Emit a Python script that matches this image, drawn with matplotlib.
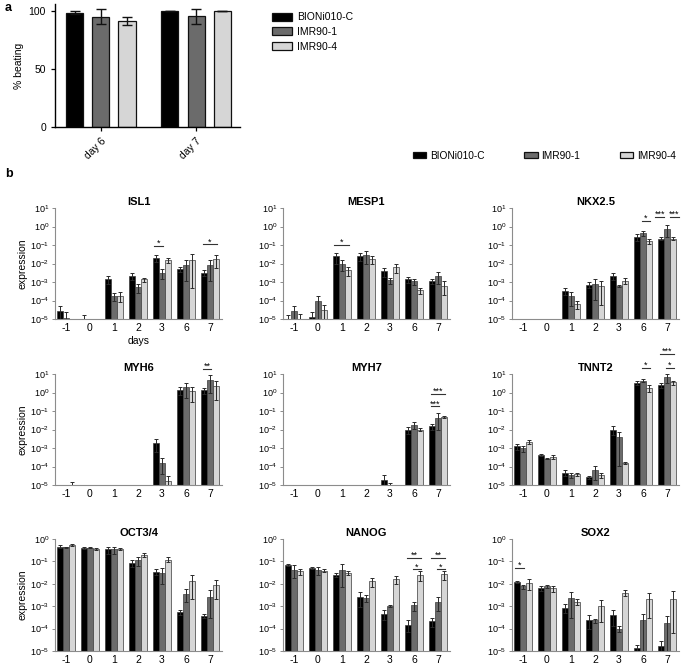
import numpy as np
import matplotlib
matplotlib.use("Agg")
import matplotlib.pyplot as plt
from matplotlib.patches import Patch
from matplotlib.ticker import NullLocator

plt.rcParams['font.family'] = ['Liberation Sans', 'DejaVu Sans']
plt.rcParams['mathtext.fontset'] = 'custom'
plt.rcParams['mathtext.rm'] = 'Liberation Sans'
plt.rcParams['mathtext.it'] = 'Liberation Sans:italic'
plt.rcParams['mathtext.bf'] = 'Liberation Sans:bold'
plt.rcParams['mathtext.default'] = 'regular'

nan = np.nan
lines_names = ["BIONi010-C", "IMR90-1", "IMR90-4"]
colors = ["#000000", "#6b6b6b", "#d6d6d6"]

# ---------------- panel a ----------------
a_days = ["day 6", "day 7"]
a_bioni = [98.5, 100.0]
a_bioni_sd = [1.5, 0.0]
a_imr1 = [95.0, 95.5]
a_imr1_sd = [6.5, 6.5]
a_imr4 = [91.5, 100.0]
a_imr4_sd = [3.5, 0.0]

# ---------------- panel b ----------------
days = ["-1", "0", "1", "2", "3", "6", "7"]

ISL1 = dict(
    B=[2.8e-5, 1.0e-5, 1.5e-3, 2.1e-3, 2.0e-2, 4.9e-3, 3.2e-3],
    Bsd=[2.2e-5, 0.6e-5, 0.7e-3, 0.8e-3, 0.8e-2, 1.6e-3, 1.0e-3],
    I1=[1.2e-5, nan, 1.8e-4, 5.1e-4, 3.2e-3, 8.1e-3, 8.1e-3],
    I1sd=[1.3e-5, nan, 0.9e-4, 2.6e-4, 1.7e-3, 6.9e-3, 6.9e-3],
    I4=[nan, nan, 1.8e-4, 1.4e-3, 1.6e-2, 1.6e-2, 1.8e-2],
    I4sd=[nan, nan, 1.0e-4, 0.35e-3, 0.5e-2, 1.6e-2, 1.2e-2])
MESP1 = dict(
    B=[1.0e-5, 1.3e-5, 2.4e-2, 2.5e-2, 3.9e-3, 1.4e-3, 1.1e-3],
    Bsd=[0.7e-5, 1.2e-5, 1.5e-2, 1.2e-2, 2.1e-3, 0.5e-3, 0.3e-3],
    I1=[2.6e-5, 9.3e-5, 1.0e-2, 2.8e-2, 1.26e-3, 1.1e-3, 2.1e-3],
    I1sd=[2.6e-5, 8.7e-5, 0.6e-2, 1.8e-2, 0.44e-3, 0.4e-3, 1.3e-3],
    I4=[1.0e-5, 3.0e-5, 4.4e-3, 1.7e-2, 6.6e-3, 3.6e-4, 6.3e-4],
    I4sd=[0.9e-5, 2.4e-5, 2.2e-3, 0.8e-2, 3.4e-3, 1.3e-4, 4.4e-4])
NKX25 = dict(
    B=[nan, nan, 3.4e-4, 7.1e-4, 2.2e-3, 0.285, 0.22],
    Bsd=[nan, nan, 1.3e-4, 2.5e-4, 0.9e-3, 0.115, 0.04],
    I1=[nan, nan, 1.65e-4, 7.8e-4, 5.8e-4, 0.44, 0.72],
    I1sd=[nan, nan, 1.15e-4, 6.7e-4, 0.7e-4, 0.13, 0.44],
    I4=[nan, nan, 6.6e-5, 5.8e-4, 1.17e-3, 0.166, 0.22],
    I4sd=[nan, nan, 3.0e-5, 5.2e-4, 0.43e-3, 0.054, 0.04])
MYH6 = dict(
    B=[nan, nan, nan, nan, 1.8e-3, 1.4, 1.3],
    Bsd=[nan, nan, nan, nan, 1.2e-3, 0.7, 0.5],
    I1=[nan, nan, nan, nan, 1.6e-4, 1.9, 4.6],
    I1sd=[nan, nan, nan, nan, 1.2e-4, 1.4, 3.7],
    I4=[1.0e-5, nan, nan, nan, 1.65e-5, 1.15, 2.3],
    I4sd=[0.45e-5, nan, nan, nan, 1.55e-5, 0.85, 1.9])
MYH7 = dict(
    B=[nan, nan, nan, nan, 1.8e-5, 1.0e-2, 1.5e-2],
    Bsd=[nan, nan, nan, nan, 1.5e-5, 0.4e-2, 0.5e-2],
    I1=[nan, nan, nan, nan, 1.0e-5, 1.85e-2, 4.2e-2],
    I1sd=[nan, nan, nan, nan, 0.3e-5, 0.75e-2, 3.2e-2],
    I4=[nan, nan, nan, nan, nan, 1.0e-2, 4.9e-2],
    I4sd=[nan, nan, nan, nan, nan, 0.2e-2, 0.7e-2])
TNNT2 = dict(
    B=[1.26e-3, 4.3e-4, 4.7e-5, 2.7e-5, 1.0e-2, 3.4, 2.6],
    Bsd=[0.44e-3, 0.7e-4, 1.8e-5, 0.5e-5, 0.5e-2, 0.9, 0.8],
    I1=[9.8e-4, 2.7e-4, 3.3e-5, 6.3e-5, 3.7e-3, 4.4, 6.6],
    I1sd=[3.7e-4, 0.1e-4, 1.0e-5, 4.4e-5, 3.9e-3, 0.9, 3.4],
    I4=[2.1e-3, 3.2e-4, 3.8e-5, 3.3e-5, 1.6e-4, 1.8, 3.5],
    I4sd=[0.5e-3, 0.8e-4, 0.7e-5, 1.0e-5, 0.15e-4, 0.7, 0.9])
OCT34 = dict(
    B=[0.46, 0.39, 0.34, 0.089, 0.035, 5.6e-4, 3.7e-4],
    Bsd=[0.07, 0.05, 0.12, 0.031, 0.011, 1.5e-4, 0.7e-4],
    I1=[0.43, 0.41, 0.34, 0.11, 0.031, 3.6e-3, 2.7e-3],
    I1sd=[0.03, 0.03, 0.12, 0.05, 0.021, 2.0e-3, 2.4e-3],
    I4=[0.54, 0.36, 0.37, 0.19, 0.12, 1.3e-2, 8.5e-3],
    I4sd=[0.07, 0.05, 0.04, 0.04, 0.03, 1.1e-2, 6.5e-3])
NANOG = dict(
    B=[0.071, 0.051, 0.025, 2.7e-3, 4.6e-4, 1.5e-4, 2.1e-4],
    Bsd=[0.006, 0.003, 0.005, 1.8e-3, 2.3e-4, 0.8e-4, 0.9e-4],
    I1=[0.042, 0.042, 0.042, 2.4e-3, 1.0e-3, 1.1e-3, 1.6e-3],
    I1sd=[0.024, 0.016, 0.035, 0.8e-3, 0.1e-3, 0.5e-3, 1.0e-3],
    I4=[0.036, 0.039, 0.030, 1.3e-2, 1.6e-2, 2.6e-2, 2.7e-2],
    I4sd=[0.010, 0.005, 0.006, 0.6e-2, 0.6e-2, 1.3e-2, 1.2e-2])
SOX2 = dict(
    B=[1.2e-2, 6.2e-3, 8.5e-4, 2.5e-4, 4.0e-4, 1.3e-5, 1.7e-5],
    Bsd=[0.1e-2, 1.4e-3, 3.5e-4, 1.5e-4, 2.7e-4, 0.6e-5, 1.0e-5],
    I1=[7.6e-3, 7.6e-3, 2.4e-3, 2.3e-4, 1.0e-4, 2.3e-4, 1.8e-4],
    I1sd=[1.5e-3, 0.8e-3, 2.1e-3, 0.5e-4, 0.3e-4, 2.4e-4, 1.8e-4],
    I4=[1.07e-2, 6.2e-3, 1.6e-3, 1.0e-3, 4.0e-3, 2.0e-3, 2.2e-3],
    I4sd=[0.53e-2, 1.9e-3, 0.5e-3, 0.8e-3, 1.2e-3, 1.7e-3, 2.7e-3])

genes = ["ISL1", "MESP1", "NKX2.5", "MYH6", "MYH7", "TNNT2", "OCT3/4", "NANOG", "SOX2"]
gene_data = [ISL1, MESP1, NKX25, MYH6, MYH7, TNNT2, OCT34, NANOG, SOX2]

# significance: (group index, series i, series j, y level, label, x shift)
sig = {
    "ISL1": [(4, 0, 1, 0.089, "*", 0), (6, 0, 2, 0.11, "*", 0)],
    "MESP1": [(2, 0, 2, 0.10, "*", 0)],
    "NKX2.5": [(5, 1, 2, 2.0, "*", 0), (6, 0, 1, 3.4, "***", -0.17),
               (6, 1, 2, 3.4, "***", 0.17)],
    "MYH6": [(6, 0, 1, 19, "**", 0)],
    "MYH7": [(6, 0, 1, 0.18, "***", 0), (6, 0, 2, 0.83, "***", 0)],
    "TNNT2": [(5, 1, 2, 21, "*", 0), (6, 1, 2, 21, "*", 0), (6, 0, 2, 120, "***", 0)],
    "OCT3/4": [],
    "NANOG": [(5, 0, 2, 0.14, "**", 0), (5, 1, 2, 0.045, "*", 0),
              (6, 0, 2, 0.14, "**", 0), (6, 1, 2, 0.045, "*", 0)],
    "SOX2": [(0, 0, 1, 0.05, "*", 0)],
}

W, H = 685, 667
fig = plt.figure(figsize=(W / 100, H / 100), dpi=100)


def px_axes(left, top, right, bottom):
    return fig.add_axes([left / W, 1 - bottom / H, (right - left) / W, (bottom - top) / H])


# ---------------- panel a ----------------
axa = px_axes(55, 4, 240, 127)
xa = np.arange(len(a_days))
off_a, wa = 0.275, 0.18
for k, (v, s) in enumerate([(a_bioni, a_bioni_sd), (a_imr1, a_imr1_sd), (a_imr4, a_imr4_sd)]):
    pos = xa + (k - 1) * off_a
    axa.bar(pos, v, width=wa, color=colors[k], edgecolor="#111111", linewidth=0.9,
            label=lines_names[k], zorder=2)
    s = np.array(s)
    axa.errorbar(pos, v, yerr=s, fmt="none", ecolor="#111111", elinewidth=1.0,
                 capsize=3.5, capthick=1.0, zorder=3)
axa.set_xlim(-0.48, 1.46)
axa.set_ylim(0, 106)
axa.set_yticks([0, 50, 100])
axa.set_xticks(xa)
axa.set_xticklabels(a_days, rotation=45, ha="right", rotation_mode="anchor")
axa.tick_params(labelsize=7.5, length=3, width=0.9)
axa.set_ylabel("% beating", fontsize=7.5, labelpad=3)
for sp in ["top", "right"]:
    axa.spines[sp].set_visible(False)
for sp in ["left", "bottom"]:
    axa.spines[sp].set_linewidth(1.0)
hdl = [Patch(facecolor=colors[k], edgecolor="#111111", linewidth=0.9) for k in range(3)]
fig.legend(hdl, lines_names, loc="upper left", bbox_to_anchor=(267 / W, 1 - 7 / H),
           frameon=False, fontsize=7.5, borderpad=0, handlelength=1.9, handleheight=0.8,
           handletextpad=0.5, labelspacing=0.45)

fig.text(5 / W, 1 - 8 / H, "a", fontsize=9, fontweight="bold", va="center", ha="left")
fig.text(5 / W, 1 - 174 / H, "b", fontsize=9, fontweight="bold", va="center", ha="left")

# legend b
fig.legend(hdl, lines_names, loc="center left", bbox_to_anchor=(408 / W, 1 - 156 / H),
           ncol=3, frameon=False, fontsize=7.3, borderpad=0, handlelength=1.3,
           handleheight=0.55, handletextpad=0.4, columnspacing=3.9)

# ---------------- panel b ----------------
col_left = [55, 283, 512]
col_w = 167
rows = [(208, 319, 1e-5, 1e1), (374, 485, 1e-5, 1e1), (539, 651, 1e-5, 1e0)]
xb = np.arange(len(days))
off_b, wb = 0.25, 0.235
spine_c = "#8c8c8c"

for gi, (gname, gd) in enumerate(zip(genes, gene_data)):
    r, c = divmod(gi, 3)
    top, bot, ylo, yhi = rows[r]
    ax = px_axes(col_left[c], top, col_left[c] + col_w, bot)
    ax.set_yscale("log")
    series = [(gd["B"], gd["Bsd"]), (gd["I1"], gd["I1sd"]), (gd["I4"], gd["I4sd"])]
    for k, (v, s) in enumerate(series):
        v = np.array(v, dtype=float)
        s = np.array(s, dtype=float)
        pos = xb + (k - 1) * off_b
        ok = ~np.isnan(v)
        ax.bar(pos[ok], v[ok], width=wb, color=colors[k], edgecolor="#3a3a3a",
               linewidth=0.5, zorder=2)
        lower = np.minimum(s[ok], v[ok] * 0.97)
        ax.errorbar(pos[ok], v[ok], yerr=[lower, s[ok]], fmt="none", ecolor="#2a2a2a",
                    elinewidth=0.7, capsize=1.6, capthick=0.7, zorder=3)
    ax.set_xlim(-0.45, 6.5)
    ax.set_ylim(ylo, yhi)
    ax.set_yticks([10.0 ** e for e in range(int(np.log10(ylo)), int(np.log10(yhi)) + 1)])
    ax.yaxis.set_minor_locator(NullLocator())
    ax.set_xticks(xb)
    ax.set_xticklabels(days)
    ax.tick_params(axis="y", labelsize=6.5, length=2.5, width=0.7, color=spine_c, pad=1.5)
    ax.tick_params(axis="x", labelsize=7.5, length=0, pad=3)
    for sp in ["top", "right"]:
        ax.spines[sp].set_visible(False)
    for sp in ["left", "bottom"]:
        ax.spines[sp].set_color(spine_c)
        ax.spines[sp].set_linewidth(0.8)
    ax.set_title(gname, fontsize=8, fontweight="bold", pad=2.5)
    if c == 0:
        ax.set_ylabel("expression", fontsize=7.5, labelpad=2)
    if gi == 0:
        ax.set_xlabel("days", fontsize=7.5, labelpad=2)
    for (g, i, j, yv, lab, dx) in sig[gname]:
        x0 = xb[g] + (i - 1) * off_b - 0.06 + dx
        x1 = xb[g] + (j - 1) * off_b + 0.06 + dx
        ax.plot([x0, x1], [yv, yv], color="#333333", lw=0.8, clip_on=False, zorder=4)
        ax.annotate(lab, xy=((x0 + x1) / 2, yv), xytext=(0, -1.5), textcoords="offset points",
                    ha="center", va="bottom", fontsize=6.5, annotation_clip=False)

fig.savefig("out.png", dpi=100)
